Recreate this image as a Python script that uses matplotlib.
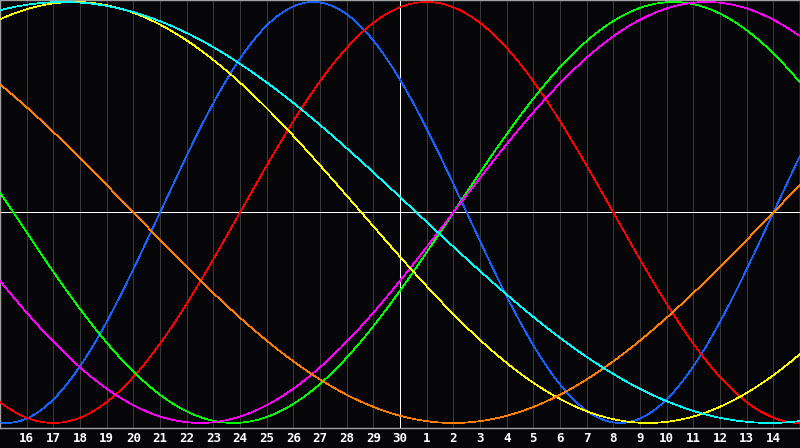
import numpy as np
import matplotlib
matplotlib.use("Agg")
import matplotlib.pyplot as plt

# Day labels along the bottom (one per grid line)
day_labels = [16, 17, 18, 19, 20, 21, 22, 23, 24, 25, 26, 27, 28, 29, 30,
              1, 2, 3, 4, 5, 6, 7, 8, 9, 10, 11, 12, 13, 14]

# Biorhythm cycles: period (days) and chart-day of the upward zero crossing
cycle_names = ["physical", "emotional", "intellectual", "intuitive",
               "aesthetic", "awareness", "spiritual"]
periods = [23, 28, 33, 38, 43, 48, 53]
upward_zero_day = [6.0, 9.0, 17.0, 17.0, 13.55 + 21.5, 29.0, 15.62 + 26.5]
colors = ["#1464ff", "#ff0000", "#00ff00", "#ff00ff", "#ffff00", "#ff8000", "#00ffff"]

n_days = 30

fig = plt.figure(figsize=(8, 4.48), dpi=100, facecolor="#060608")
ax = fig.add_axes([0, 20 / 448, 1, 428 / 448])
ax.set_facecolor("#060608")

ax.set_xlim(0, n_days)
ax.set_ylim(-1.024, 1.0095)

# vertical day grid
for d in range(1, n_days):
    ax.axvline(d, color="#3a3a3a", lw=0.6, zorder=1, antialiased=False)

# centre lines
ax.axhline(0, color="#ffffff", lw=0.7, zorder=2, antialiased=False)
ax.axvline(15, color="#ffffff", lw=0.7, zorder=2, antialiased=False)

t = np.linspace(0, n_days, 1600)
for name, p, z, c in zip(cycle_names, periods, upward_zero_day, colors):
    ax.plot(t, np.sin(2 * np.pi * (t - z) / p), color=c, lw=0.5, zorder=3,
            solid_capstyle="butt", antialiased=False)

ax.set_xticks(range(1, n_days))
ax.set_xticklabels([str(v) for v in day_labels], color="white",
                   fontfamily="DejaVu Sans Mono", fontweight="bold", fontsize=9)
ax.tick_params(axis="x", length=0, pad=3)
ax.set_yticks([])

for s in ax.spines.values():
    s.set_color("#a0a0a0")
    s.set_linewidth(1.0)

fig.savefig("out.png", dpi=100, facecolor=fig.get_facecolor())
